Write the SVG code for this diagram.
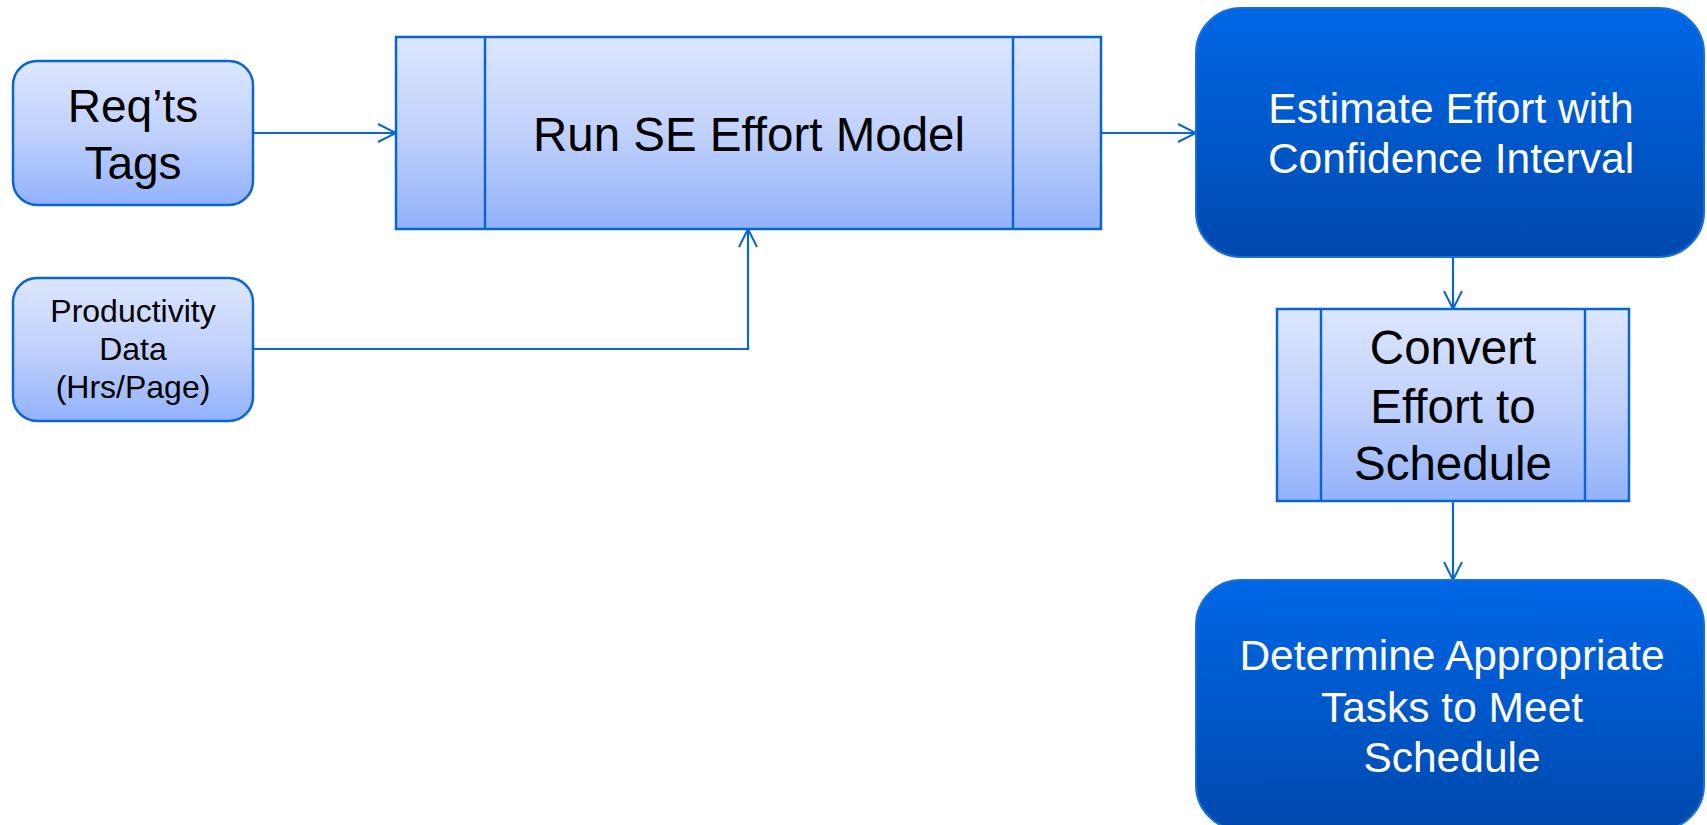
<svg xmlns="http://www.w3.org/2000/svg" width="1707" height="825" viewBox="0 0 1707 825">
  <defs>
    <linearGradient id="lightFill" x1="0" y1="0" x2="0" y2="1">
      <stop offset="0" stop-color="#dde6fe"/>
      <stop offset="0.5" stop-color="#c0d1fc"/>
      <stop offset="1" stop-color="#93b2fb"/>
    </linearGradient>
    <linearGradient id="darkFill" x1="0" y1="0" x2="0" y2="1">
      <stop offset="0" stop-color="#0067e6"/>
      <stop offset="1" stop-color="#0049ae"/>
    </linearGradient>
    <marker id="arrow" markerUnits="userSpaceOnUse" markerWidth="22" markerHeight="22" viewBox="0 0 22 22" refX="20" refY="11" orient="auto">
      <path d="M2,2 L20,11 L2,20" fill="none" stroke="#0a66cc" stroke-width="2"/>
    </marker>
    <style>
      .light { fill: url(#lightFill); stroke: #0a66cc; stroke-width: 2.5; }
      .dark { fill: url(#darkFill); stroke: #1a6fd6; stroke-width: 2; }
      .bar { stroke: #0a66cc; stroke-width: 2.5; }
      .conn { fill: none; stroke: #0a66cc; stroke-width: 2.2; marker-end: url(#arrow); }
      text { font-family: "Liberation Sans", Arial, sans-serif; text-anchor: middle; }
      .blk { fill: #000; }
      .wht { fill: #fff; }
    </style>
  </defs>

  <!-- connectors -->
  <g id="connectors">
    <path class="conn" d="M253,133 L396,133"/>
    <path class="conn" d="M253,349 L748,349 L748,229"/>
    <path class="conn" d="M1101,133 L1196,133"/>
    <path class="conn" d="M1453,257 L1453,309"/>
    <path class="conn" d="M1453,501 L1453,580"/>
  </g>

  <!-- input: requirement tags -->
  <g id="reqts-tags">
    <rect class="light" x="13" y="61" width="240" height="144" rx="24"/>
    <text class="blk" x="133" y="122" font-size="46">Req’ts</text>
    <text class="blk" x="133" y="179" font-size="46">Tags</text>
  </g>

  <!-- input: productivity data -->
  <g id="productivity-data">
    <rect class="light" x="13" y="278" width="240" height="143" rx="24"/>
    <text class="blk" x="133" y="322" font-size="32">Productivity</text>
    <text class="blk" x="133" y="360" font-size="32">Data</text>
    <text class="blk" x="133" y="398" font-size="32">(Hrs/Page)</text>
  </g>

  <!-- predefined process: effort model -->
  <g id="run-se-effort-model">
    <rect class="light" x="396" y="37" width="705" height="192"/>
    <line class="bar" x1="485" y1="37" x2="485" y2="229"/>
    <line class="bar" x1="1013" y1="37" x2="1013" y2="229"/>
    <text class="blk" x="749" y="151" font-size="47.5">Run SE Effort Model</text>
  </g>

  <!-- output: effort estimate -->
  <g id="estimate-effort">
    <rect class="dark" x="1196" y="8" width="508" height="249" rx="45"/>
    <text class="wht" x="1451" y="123" font-size="42.5">Estimate Effort with</text>
    <text class="wht" x="1451" y="173" font-size="42.5">Confidence Interval</text>
  </g>

  <!-- predefined process: schedule conversion -->
  <g id="convert-effort">
    <rect class="light" x="1277" y="309" width="352" height="192"/>
    <line class="bar" x1="1321" y1="309" x2="1321" y2="501"/>
    <line class="bar" x1="1585" y1="309" x2="1585" y2="501"/>
    <text class="blk" x="1453" y="364" font-size="47.5">Convert</text>
    <text class="blk" x="1453" y="423" font-size="47.5">Effort to</text>
    <text class="blk" x="1453" y="480" font-size="47.5">Schedule</text>
  </g>

  <!-- output: task selection -->
  <g id="determine-tasks">
    <rect class="dark" x="1196" y="580" width="508" height="250" rx="45"/>
    <text class="wht" x="1452" y="670" font-size="42.5">Determine Appropriate</text>
    <text class="wht" x="1452" y="722" font-size="42.5">Tasks to Meet</text>
    <text class="wht" x="1452" y="772" font-size="42.5">Schedule</text>
  </g>
</svg>
